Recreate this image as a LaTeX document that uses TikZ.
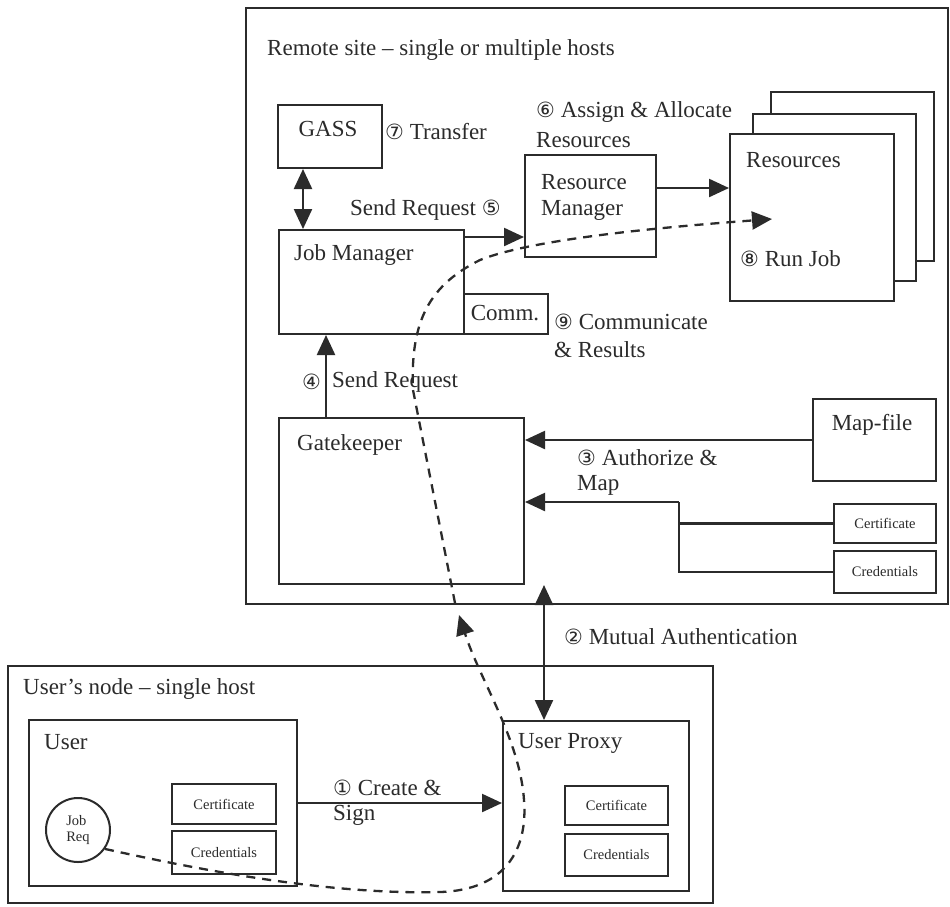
\documentclass[tikz,border=0pt]{standalone}
\usepackage{fontspec}
\setmainfont{Liberation Serif}
\newfontfamily\circfont{DejaVu Sans}
\usetikzlibrary{arrows.meta,calc}
\definecolor{ink}{HTML}{2B2B2B}
\newcommand{\cnum}[1]{{\circfont\fontsize{21}{21}\selectfont #1}}

\begin{document}
\begin{tikzpicture}[x=1pt,y=-1pt,
  box/.style={draw=ink, line width=2pt, fill=white, inner sep=0pt, anchor=north west},
  lbl/.style={text=ink, font=\fontsize{23}{27}\selectfont, inner sep=0pt, anchor=west},
  small/.style={text=ink, font=\fontsize{14.5}{16}\selectfont, inner sep=0pt},
  tip/.tip={Triangle[length=20pt,width=18pt]},
  arr/.style={draw=ink, line width=2.3pt, -tip},
  dual/.style={draw=ink, line width=2.3pt, tip-tip},
  flow/.style={draw=ink, line width=2.3pt, dash pattern=on 9pt off 7pt, -tip},
  link/.style={draw=ink, line width=2.2pt}]

\fill[white] (0,0) rectangle (950,906);
\useasboundingbox (0,0) rectangle (950,906);

% ---------- remote site ----------
\node[box, minimum width=702pt, minimum height=596pt] (remote) at (245,7) {};
\node[lbl] (remoteT) at (267,50) {Remote site – single or multiple hosts};

\node[box, minimum width=104pt, minimum height=63pt] (gass) at (277,104) {};
\node[lbl, anchor=center] (gassT) at (328,129) {GASS};
\node[lbl] (t7) at (385,132) {\cnum{⑦} Transfer};

\node[box, minimum width=185pt, minimum height=104pt] (jm) at (278,229) {};
\node[lbl] (jmT) at (294,255) {Job Manager};
\node[box, minimum width=84pt, minimum height=40pt] (comm) at (463,293) {};
\node[lbl, anchor=center] (commT) at (505,313) {Comm.};
\node[lbl] (t9a) at (554,322) {\cnum{⑨} Communicate};
\node[lbl] (t9b) at (554,350) {\& Results};

\node[lbl] (t5) at (350,210) {Send Request \cnum{⑤}};

\node[box, minimum width=131pt, minimum height=102pt] (rm) at (524,154) {};
\node[lbl] (rmT1) at (541,182) {Resource};
\node[lbl] (rmT2) at (541,210) {Manager};
\node[lbl] (t6a) at (536,112) {\cnum{⑥} Assign \& Allocate};
\node[lbl] (t6b) at (536,140) {Resources};

% stacked resources, back to front
\node[box, minimum width=163pt, minimum height=169pt] (res3) at (770,91) {};
\node[box, minimum width=163pt, minimum height=167pt] (res2) at (752,113) {};
\node[box, minimum width=164pt, minimum height=167pt] (res1) at (729,133) {};
\node[lbl] (resT) at (746,160) {Resources};
\node[lbl] (t8) at (740,259) {\cnum{⑧} Run Job};

\node[box, minimum width=245pt, minimum height=166pt] (gk) at (278,417) {};
\node[lbl] (gkT) at (297,445) {Gatekeeper};
\node[lbl] (t4n) at (302,382) {\cnum{④}};
\node[lbl] (t4) at (332,382) {Send Request};

\node[box, minimum width=123pt, minimum height=82pt] (map) at (812,398) {};
\node[lbl, anchor=center] (mapT) at (872,425) {Map-file};
\node[lbl] (t3a) at (577,458) {\cnum{③} Authorize \&};
\node[lbl] (t3b) at (577,485) {Map};

\node[box, minimum width=102pt, minimum height=39pt] (rcert) at (833,503) {};
\node[small] (rcertT) at (rcert.center) {Certificate};
\node[box, minimum width=102pt, minimum height=42pt] (rcred) at (833,550) {};
\node[small] (rcredT) at (rcred.center) {Credentials};

% ---------- user's node ----------
\node[box, minimum width=705pt, minimum height=237pt] (unode) at (7,665) {};
\node[lbl] (unodeT) at (23,689) {User’s node – single host};

\node[box, minimum width=268pt, minimum height=166pt] (user) at (28,719) {};
\node[lbl] (userT) at (44,742) {User};
\node[box, minimum width=104pt, minimum height=40pt] (ucert) at (171,783) {};
\node[small] (ucertT) at (ucert.center) {Certificate};
\node[box, minimum width=104pt, minimum height=43pt] (ucred) at (171,830) {};
\node[small] (ucredT) at (ucred.center) {Credentials};
\node[draw=ink, line width=2pt, circle, minimum size=64pt, inner sep=0pt,
      small, align=left] (jobreq) at (78,830) {Job\\Req};

\node[box, minimum width=186pt, minimum height=170pt] (proxy) at (502,720) {};
\node[lbl] (proxyT) at (518,743) {User Proxy};
\node[box, minimum width=103pt, minimum height=39pt] (pcert) at (564,785) {};
\node[small] (pcertT) at (pcert.center) {Certificate};
\node[box, minimum width=103pt, minimum height=42pt] (pcred) at (564,833) {};
\node[small] (pcredT) at (pcred.center) {Credentials};

\node[lbl] (t1a) at (333,788) {\cnum{①} Create \&};
\node[lbl] (t1b) at (333,815) {Sign};
\node[lbl] (t2) at (564,637) {\cnum{②} Mutual Authentication};

% ---------- connectors ----------
\draw[dual] ([xshift=26pt]gass.south west) -- ([xshift=25pt]jm.north west);

\coordinate (s5) at ([yshift=-8pt]jm.north east);
\draw[arr] (s5) -- (s5 -| rm.west);

\coordinate (s6) at ([yshift=-34pt]rm.north east);
\draw[arr] (s6) -- (s6 -| res1.west);

\draw[arr] ([xshift=48pt]gk.north west) -- ([xshift=48pt]jm.south west);

\coordinate (m3) at ([yshift=-42pt]map.north west);
\draw[arr] (m3) -- (m3 -| gk.east);

\coordinate (jn) at (679,502);
\draw[link] (rcert.west) -| (jn);
\draw[link] (rcred.west) -| (jn);
\draw[arr] (jn) -- (jn -| gk.east);

\coordinate (ma) at (544,585);
\draw[dual] (ma) -- (ma |- proxy.north);

\draw[arr] (user.east) -- (user.east -| proxy.west);

% job request flow: user -> proxy -> gatekeeper
\coordinate (f1end) at (459,615);
\draw[flow] (jobreq.-35) .. controls (200,870) and (330,895) .. (440,892)
  .. controls (505,890) and (528,850) .. (524,800)
  .. controls (520,740) and (480,680) .. (f1end);

% gatekeeper -> job manager -> resources
\coordinate (f2start) at (455,603);
\coordinate (f2end) at (772,219);
\draw[flow] (f2start) -- (413,390) .. controls (410,320) and (430,285) .. (480,260)
  .. controls (530,240) and (650,228) .. (f2end);
\end{tikzpicture}
\end{document}
